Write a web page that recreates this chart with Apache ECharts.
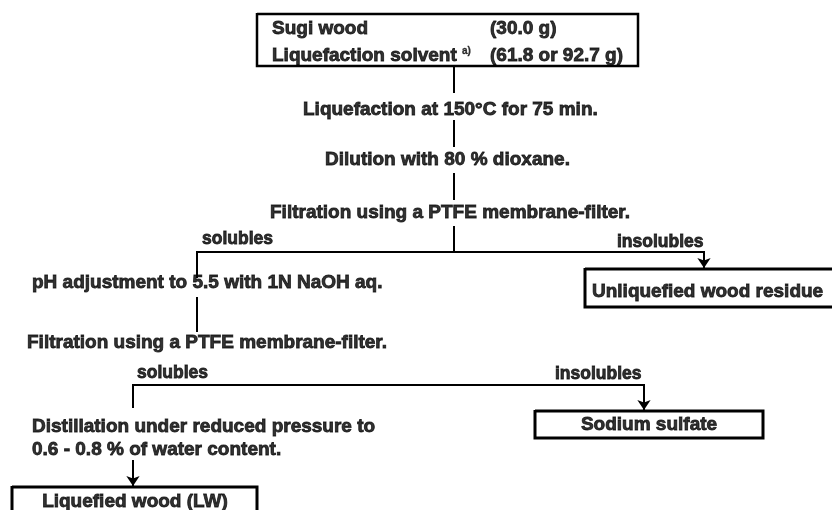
<!DOCTYPE html>
<html>
<head>
<meta charset="utf-8">
<script src="https://cdn.jsdelivr.net/npm/echarts@6/dist/echarts.min.js"></script>
<style>
html,body{margin:0;padding:0;background:#fff;}
#chart{width:832px;height:510px;}
</style>
</head>
<body>
<div id="chart"></div>
<script>
// ---- content (texts of the flow chart) ----
const startMaterials = ['Sugi wood', 'Liquefaction solvent'];
const startAmounts = ['(30.0 g)', '(61.8 or 92.7 g)'];
const footnoteMark = 'a)';
const steps = [
  'Liquefaction at 150°C for 75 min.',
  'Dilution with 80 % dioxane.',
  'Filtration using a PTFE membrane-filter.',
  'pH adjustment to 5.5 with 1N NaOH aq.',
  'Filtration using a PTFE membrane-filter.',
  'Distillation under reduced pressure to',
  '0.6 - 0.8 % of water content.'
];
const branchLabels = ['solubles', 'insolubles', 'solubles', 'insolubles'];
const products = ['Unliquefied wood residue', 'Sodium sulfate', 'Liquefied wood (LW)'];

// ---- layout (diagram coordinates, separate from content) ----
const startTextPos = [[272, 29], [272, 56]];
const startAmountPos = [[490, 29], [490, 56]];
const stepPos = [[303, 110], [325, 160], [270, 213], [32, 283], [27, 343], [32, 427], [32, 450]];
const branchPos = [[202, 239], [617, 242], [137, 373], [555, 374]];
// boxes: [x0, y0, x1, y1]
const startBox = [257, 14, 638, 66];
const productBoxes = [[585, 269, 845, 307], [535, 411, 763, 438], [12, 487, 257, 530]];
const productTextPos = [[592, 292, 'left'], [649, 425, 'center'], [135, 502, 'center']];
const plainLinks = [
  [[454, 66], [454, 93]],
  [[454, 120], [454, 147]],
  [[454, 173], [454, 200]],
  [[454, 226], [454, 252]],
  [[197, 297], [197, 332]],
  [[197, 278], [197, 252], [704, 252], [704, 260]],
  [[133, 408], [133, 385], [644, 385], [644, 400]]
];
const arrowLinks = [
  [[704, 255], [704, 268]],
  [[644, 395], [644, 410]],
  [[133, 460], [133, 486]]
];

const FONT = {color: '#000', fontFamily: 'Liberation Sans, Arial, sans-serif', fontWeight: 'bold', fontSize: 19};
const STROKE = {textBorderColor: '#000', textBorderWidth: 0.85};

function textItem(pos, text, align) {
  return {
    value: [pos[0], pos[1]],
    label: Object.assign({
      show: true,
      position: align === 'center' ? 'inside' : 'right',
      distance: 0,
      formatter: text
    }, FONT, STROKE)
  };
}

const texts = [];
startMaterials.forEach((t, i) => {
  const item = textItem(startTextPos[i], i === 1 ? '{n|' + t + ' }{s|' + footnoteMark + '}' : t, 'left');
  if (i === 1) {
    item.label.rich = {
      n: Object.assign({}, FONT, STROKE),
      s: Object.assign({}, FONT, {fontSize: 10, verticalAlign: 'top', padding: [0, 0, 10, 0], textBorderColor: '#000', textBorderWidth: 0.3})
    };
  }
  texts.push(item);
});
startAmounts.forEach((t, i) => texts.push(textItem(startAmountPos[i], t, 'left')));
steps.forEach((t, i) => texts.push(textItem(stepPos[i], t, 'left')));
branchLabels.forEach((t, i) => {
  const it = textItem(branchPos[i], t, 'left');
  it.label.fontSize = 17.5;
  texts.push(it);
});
products.forEach((t, i) => {
  const p = productTextPos[i];
  texts.push(textItem([p[0], p[1]], t, p[2]));
});

function boxPath(b) {
  return {coords: [[b[0], b[1]], [b[2], b[1]], [b[2], b[3]], [b[0], b[3]], [b[0], b[1] - 1]]};
}

const chart = echarts.init(document.getElementById('chart'), null, {renderer: 'canvas'});
chart.setOption({
  animation: false,
  backgroundColor: '#fff',
  grid: {left: 0, right: 0, top: 0, bottom: 0, containLabel: false},
  xAxis: {type: 'value', min: 0, max: 832, show: false},
  yAxis: {type: 'value', min: 0, max: 510, inverse: true, show: false},
  series: [
    {
      type: 'lines', coordinateSystem: 'cartesian2d', polyline: true, z: 1, silent: true,
      lineStyle: {color: '#000', width: 2.5, opacity: 1, join: 'miter'},
      data: [boxPath(startBox)]
    },
    {
      type: 'lines', coordinateSystem: 'cartesian2d', polyline: true, z: 1, silent: true,
      lineStyle: {color: '#000', width: 3, opacity: 1, join: 'miter'},
      data: productBoxes.map(boxPath)
    },
    {
      type: 'lines', coordinateSystem: 'cartesian2d', polyline: true, z: 2, silent: true,
      lineStyle: {color: '#000', width: 2, opacity: 1},
      data: plainLinks.map(c => ({coords: c}))
    },
    {
      type: 'lines', coordinateSystem: 'cartesian2d', z: 2, silent: true,
      lineStyle: {color: '#000', width: 2, opacity: 1},
      symbol: ['none', 'arrow'], symbolSize: [8, 10],
      data: arrowLinks.map(c => ({coords: c}))
    },
    {
      type: 'scatter', symbolSize: 0, data: texts, z: 3, silent: true
    }
  ]
});
</script>
</body>
</html>
